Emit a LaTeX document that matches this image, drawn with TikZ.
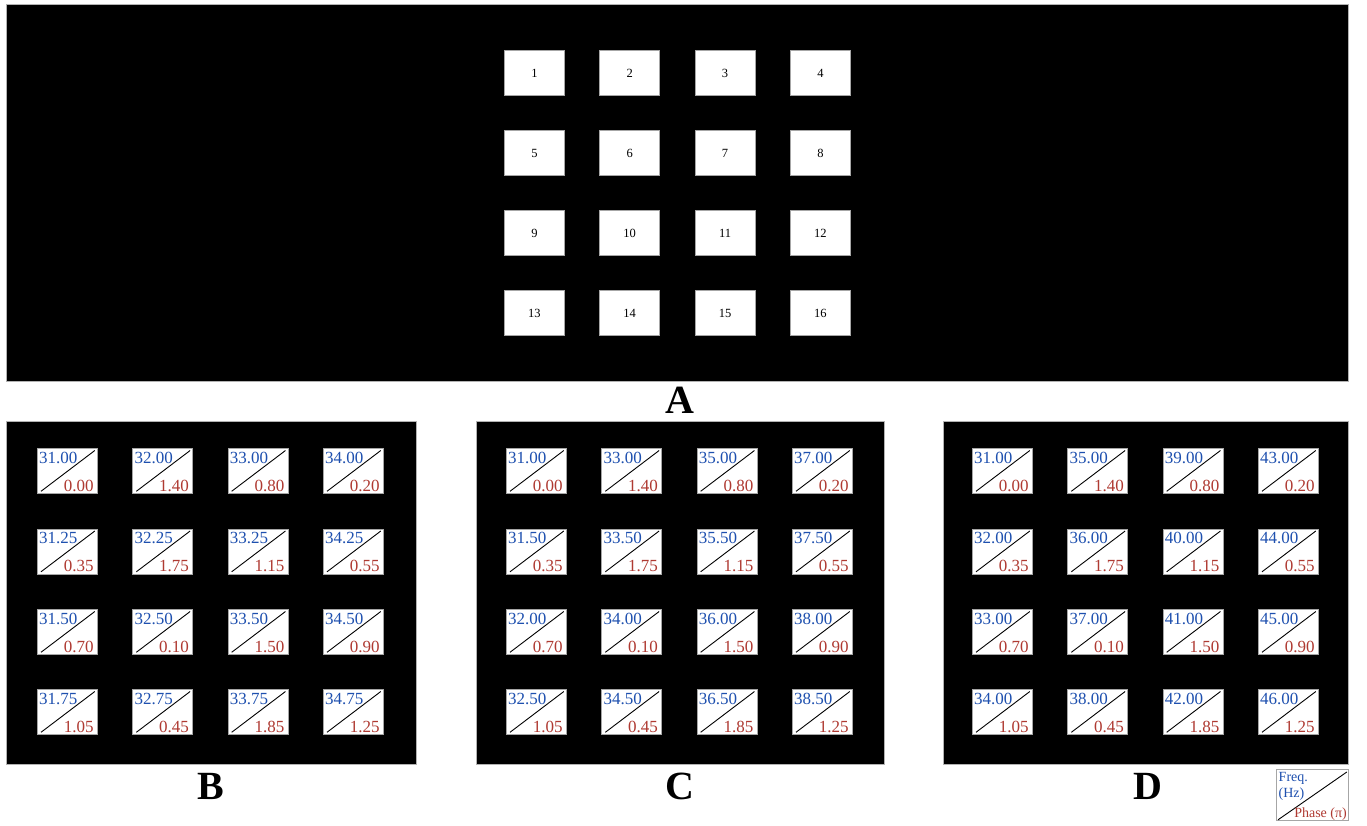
\documentclass[tikz,border=0pt]{standalone}
\usepackage{fontspec}
\setmainfont{Liberation Serif}
\definecolor{fblue}{RGB}{30,80,175}
\definecolor{pred}{RGB}{175,58,50}
\begin{document}
\begin{tikzpicture}[x=1pt,y=-1pt,
  panel/.style={fill=black,draw=gray!60,line width=0.8pt},
  topcell/.style={draw=gray!70,fill=white,line width=0.8pt,minimum width=60pt,minimum height=45pt,inner sep=0pt,anchor=north west,text height=8.5pt,text depth=0pt,font=\fontsize{12.5}{12.5}\selectfont},
  cellbox/.style={draw=gray!70,fill=white,line width=0.8pt,minimum width=60pt,minimum height=45pt,inner sep=0pt,anchor=north west},
  freq/.style={text=fblue,font=\fontsize{17}{17}\selectfont,inner sep=0pt,anchor=base west},
  phase/.style={text=pred,font=\fontsize{17}{17}\selectfont,inner sep=0pt,anchor=base east},
  diag/.style={line width=0.9pt,black},
  legtxt/.style={font=\fontsize{14}{14}\selectfont,inner sep=0pt},
  lab/.style={font=\fontsize{40}{40}\selectfont\bfseries,inner sep=0pt,anchor=base}]
\pgfkeys{/pgf/number format/.cd,fixed,fixed zerofill,precision=2,assume math mode=true}
\useasboundingbox (0,0) rectangle (1367,825);
% panels
\path[panel] (6,4) rectangle (1348,381);
\path[panel] (6,421) rectangle (416,764);
\path[panel] (476,421) rectangle (884,764);
\path[panel] (943,421) rectangle (1348,764);
% top cells
\foreach \r in {0,1,2,3}{
  \foreach \c in {0,1,2,3}{
    \pgfmathtruncatemacro{\n}{4*\r+\c+1}
    \node[topcell] (a\n) at ({504+95.33*\c},{50+80*\r}) {\n};
  }
}
% bottom panels
\foreach \p/\x/\cs/\rs in {b/37/1/0.25,c/506/2/0.5,d/972/4/1}{
  \foreach \r/\y in {0/448,1/528.5,2/609,3/689}{
    \foreach \c in {0,1,2,3}{
      \pgfmathsetmacro{\xx}{\x+95.33*\c}
      \pgfmathsetmacro{\fv}{31+\cs*\c+\rs*\r}
      \pgfmathsetmacro{\ph}{{{0.00,1.40,0.80,0.20},{0.35,1.75,1.15,0.55},{0.70,0.10,1.50,0.90},{1.05,0.45,1.85,1.25}}[\r][\c]}
      \node[cellbox] (\p\r\c) at (\xx,\y) {};
      \draw[diag] ([shift={(4,-2.5)}]\p\r\c.south west) -- ([shift={(-3,2.5)}]\p\r\c.north east);
      \node[freq] (\p\r\c f) at ([shift={(2,15)}]\p\r\c.north west) {\pgfmathprintnumber{\fv}};
      \node[phase] (\p\r\c p) at ([shift={(-4,-2.5)}]\p\r\c.south east) {\pgfmathprintnumber{\ph}};
    }
  }
}
% labels
\node[lab] (la) at (680,413) {A};
\node[lab] (lb) at (211,799) {B};
\node[lab] (lc) at (680,799) {C};
\node[lab] (ld) at (1148,799) {D};
% legend
\node[draw=gray!70,line width=0.8pt,fill=white,minimum width=72pt,minimum height=51pt,inner sep=0pt,anchor=north west] (leg) at (1276,769) {};
\draw[diag] ([shift={(2,-1)}]leg.south west) -- ([shift={(-2,3)}]leg.north east);
\node[legtxt,text=fblue,anchor=base west] (lf) at (1278.5,781) {Freq.};
\node[legtxt,text=fblue,anchor=base west] (lh) at (1278.5,797) {(Hz)};
\node[legtxt,text=pred,anchor=base east] (lp) at (1347,817) {Phase (π)};
\end{tikzpicture}
\end{document}
